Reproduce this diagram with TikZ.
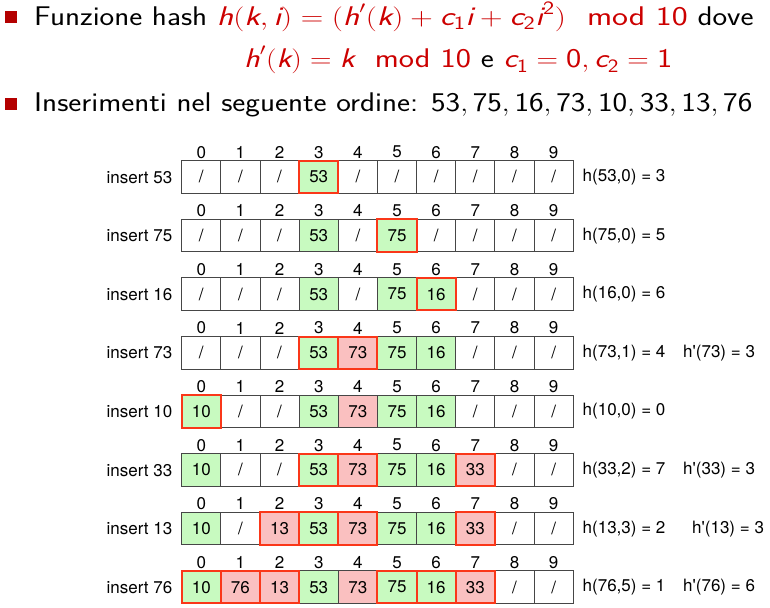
\documentclass[tikz,border=0pt]{standalone}
\usepackage{amsmath}
\usepackage{graphicx}
\usepackage{fontspec}
\newfontfamily\helv{TeX Gyre Heros}

\definecolor{alertred}{RGB}{204,0,0}
\definecolor{bulletred}{RGB}{180,0,0}
\definecolor{cfe}{RGB}{255,255,255}
\definecolor{cfg}{RGB}{200,250,192}
\definecolor{cfp}{RGB}{250,192,192}
\definecolor{hitred}{RGB}{250,55,25}
\definecolor{gridgray}{RGB}{70,70,70}

% math letters in sans italic, digits and words in upright sans
\newcommand\mv[1]{\text{\itshape #1}}
\newcommand\mn[1]{\text{#1}}
% slide text is set slightly wide, formulas a little wider still
\newcommand\wide[1]{\scalebox{1.15}[1]{#1}}
\newcommand\alertmath[2]{\textcolor{alertred}{\scalebox{#1}[1]{#2}}}

\tikzset{
  head/.style={font=\sffamily\fontsize{27}{32}\selectfont, inner sep=0pt, anchor=base west},
  bulletbox/.style={fill=bulletred, minimum size=12.5pt, inner sep=0pt},
  cell/.style={draw=gridgray, line width=1pt, fill=cf#1, minimum width=39.15pt,
    minimum height=32.5pt, inner sep=0pt, outer sep=0pt, font=\helv\fontsize{17}{20}\selectfont},
  idx/.style={font=\helv\fontsize{17}{20}\selectfont, inner sep=0pt},
  lbl/.style={font=\helv\fontsize{17}{20}\selectfont, inner sep=0pt},
  hit/.style={draw=hitred, line width=2pt},
}

% one snapshot of the table: #1 row, #2 key, #3 cells, #4 probed slots, #5/#6 notes, #7 x of second note
\newcommand\hashrow[7]{%
  \pgfmathsetmacro\rowtop{160.7+58.6*#1}
  \foreach \f/\v [count=\i from 0] in {#3}{
    \node[cell=\f] (c#1-\i) at ({181.7+39.15*\i+19.575},{\rowtop+16.25}) {\if\f e/\else\v\fi};
    \node[idx] (n#1-\i) at ({181.7+39.15*\i+19.575},{\rowtop-8.5}) {\i};
  }
  \node[lbl, anchor=east] (k#1) at (172.5,{\rowtop+16.5}) {insert #2};
  \foreach \h in {#4} \draw[hit] (c#1-\h.south west) rectangle (c#1-\h.north east);
  \node[lbl, anchor=west] (h#1) at (582.5,{\rowtop+16.5}) {#5};
  \node[lbl, anchor=west] (p#1) at (#7,{\rowtop+16.5}) {#6};
}

\begin{document}
\begin{tikzpicture}[x=1pt,y=-1pt]
\useasboundingbox (0,0) rectangle (770,607);

\node[bulletbox] (b1) at (11,17) {};
\node[head] (t1) at (34,25.5) {\wide{Funzione hash \alertmath{1.09}{$\mv{h}(\mv{k},\mv{i})=(\mv{h}'(\mv{k})+\mv{c}_{\mn{1}}\mv{i}+\mv{c}_{\mn{2}}\mv{i}^{\mn{2}})\ \ \mn{mod}\ \mn{10}$} dove}};
\node[head] (t2) at (244,68) {\wide{\alertmath{1.04}{$\mv{h}'(\mv{k})=\mv{k}\ \ \mn{mod}\ \mn{10}$} e \alertmath{1.04}{$\mv{c}_{\mn{1}}=\mn{0},\mv{c}_{\mn{2}}=\mn{1}$}}};
\node[bulletbox] (b2) at (11,104) {};
\node[head] (t3) at (34,111.5) {\wide{Inserimenti nel seguente ordine: $\mn{53},\mn{75},\mn{16},\mn{73},\mn{10},\mn{33},\mn{13},\mn{76}$}};

\hashrow{0}{53}{e/x,e/x,e/x,g/53,e/x,e/x,e/x,e/x,e/x,e/x}{3}{h(53,0) = 3}{}{683}
\hashrow{1}{75}{e/x,e/x,e/x,g/53,e/x,g/75,e/x,e/x,e/x,e/x}{5}{h(75,0) = 5}{}{683}
\hashrow{2}{16}{e/x,e/x,e/x,g/53,e/x,g/75,g/16,e/x,e/x,e/x}{6}{h(16,0) = 6}{}{683}
\hashrow{3}{73}{e/x,e/x,e/x,g/53,p/73,g/75,g/16,e/x,e/x,e/x}{3,4}{h(73,1) = 4}{h'(73) = 3}{683}
\hashrow{4}{10}{g/10,e/x,e/x,g/53,p/73,g/75,g/16,e/x,e/x,e/x}{0}{h(10,0) = 0}{}{683}
\hashrow{5}{33}{g/10,e/x,e/x,g/53,p/73,g/75,g/16,p/33,e/x,e/x}{3,4,7}{h(33,2) = 7}{h'(33) = 3}{683}
\hashrow{6}{13}{g/10,e/x,p/13,g/53,p/73,g/75,g/16,p/33,e/x,e/x}{2,3,4,7}{h(13,3) = 2}{h'(13) = 3}{692}
\hashrow{7}{76}{g/10,p/76,p/13,g/53,p/73,g/75,g/16,p/33,e/x,e/x}{0,1,2,5,6,7}{h(76,5) = 1}{h'(76) = 6}{683}
\end{tikzpicture}
\end{document}
